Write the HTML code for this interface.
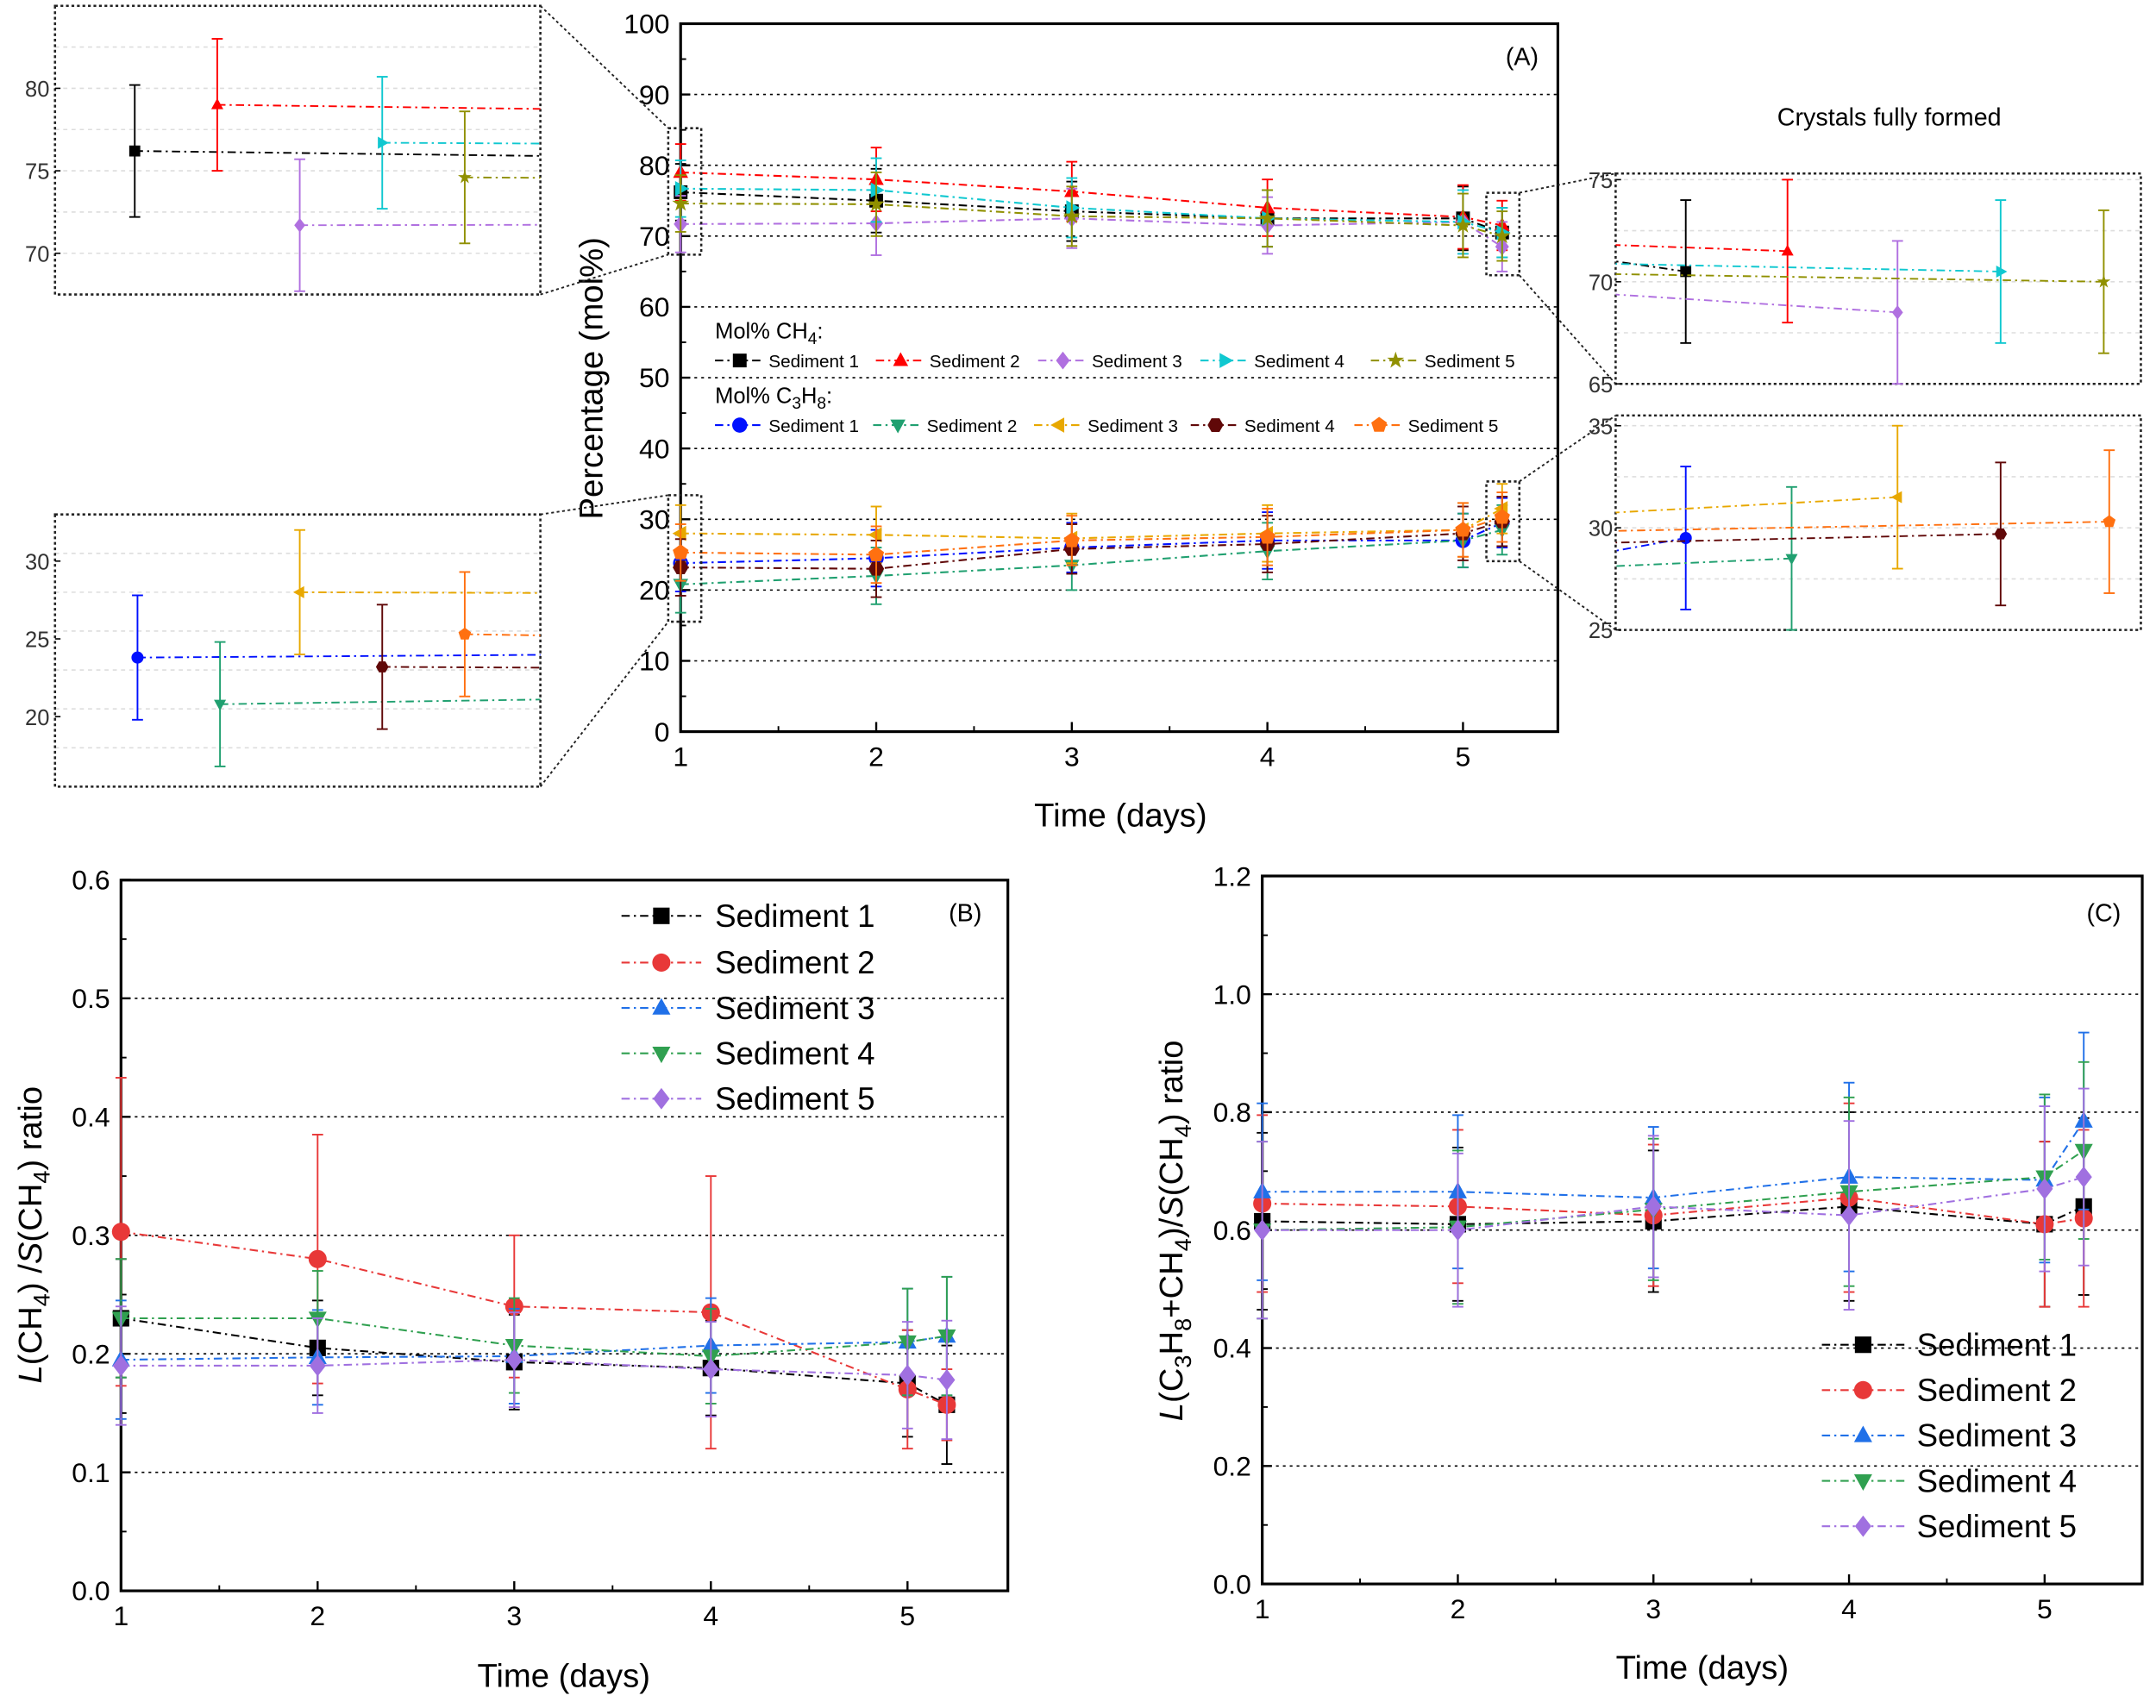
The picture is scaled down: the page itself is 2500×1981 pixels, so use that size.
<!DOCTYPE html>
<html><head><meta charset="utf-8"><style>
html,body{margin:0;padding:0;background:#fff;width:2500px;height:1981px;overflow:hidden}
svg{display:block;font-family:"Liberation Sans",Arial,sans-serif}
</style></head><body>
<svg id="fig" width="2500" height="1981" viewBox="0 0 1568 1242" xmlns="http://www.w3.org/2000/svg"></svg>
<script>
// ---------- DATA ----------
const daysA = [1,2,3,4,5,5.2];
const sedNames = ["Sediment 1","Sediment 2","Sediment 3","Sediment 4","Sediment 5"];
const ch4_s1 = [76.2,75.0,73.5,72.5,72.5,70.5];
const ch4_s2 = [79.0,78.0,76.3,74.0,72.7,71.5];
const ch4_s3 = [71.7,71.8,72.5,71.5,72.0,68.5];
const ch4_s4 = [76.7,76.5,74.0,72.5,72.0,70.5];
const ch4_s5 = [74.6,74.5,72.8,72.5,71.5,70.0];
const ch4_err = [4.0,4.5,4.2,4.0,4.5,3.5];
const c3h8_s1 = [23.8,24.5,26.0,27.0,27.0,29.5];
const c3h8_s2 = [20.8,22.0,23.5,25.5,27.0,28.5];
const c3h8_s3 = [28.0,27.8,27.3,28.0,28.5,31.5];
const c3h8_s4 = [23.2,23.0,25.8,26.5,28.0,29.7];
const c3h8_s5 = [25.3,25.0,27.0,27.5,28.5,30.3];
const c3h8_err = [4.0,4.0,3.5,4.0,3.8,3.5];
const ratioB_s1 = [0.230,0.205,0.193,0.188,0.175,0.157];
const ratioB_s2 = [0.303,0.280,0.240,0.235,0.170,0.157];
const ratioB_s3 = [0.195,0.197,0.198,0.207,0.210,0.215];
const ratioB_s4 = [0.230,0.230,0.207,0.198,0.210,0.215];
const ratioB_s5 = [0.190,0.190,0.195,0.187,0.182,0.178];
const errB_s2 = [0.13,0.105,0.06,0.115,0.05,0.03];
const errB = [0.05,0.04,0.04,0.04,0.045,0.05];
const ratioC_s1 = [0.615,0.610,0.615,0.640,0.610,0.640];
const ratioC_s2 = [0.645,0.640,0.625,0.655,0.610,0.620];
const ratioC_s3 = [0.665,0.665,0.655,0.690,0.685,0.785];
const ratioC_s4 = [0.600,0.605,0.635,0.665,0.690,0.735];
const ratioC_s5 = [0.600,0.600,0.640,0.625,0.670,0.690];
const errC = [0.15,0.13,0.12,0.16,0.14,0.15];
const ticksA = [0,10,20,30,40,50,60,70,80,90,100];
const ticksB = [0.0,0.1,0.2,0.3,0.4,0.5,0.6];
const ticksC = [0.0,0.2,0.4,0.6,0.8,1.0,1.2];
const ticksX = [1,2,3,4,5];

// ---------- HELPERS ----------
const NS="http://www.w3.org/2000/svg";
const svg=document.getElementById('fig');
function mk(tag,attrs,parent){const e=document.createElementNS(NS,tag);for(const k in attrs)e.setAttribute(k,attrs[k]);(parent||svg).appendChild(e);return e;}
function txt(s,x,y,size,anchor,parent,name){const t=mk('text',{x:x,y:y,'font-size':size,'text-anchor':anchor||'middle',fill:'#000'},parent);t.textContent=s;


return t;}
function marker(type,x,y,r,col,parent){let e;
 const p=(pts)=>mk('polygon',{points:pts.map(a=>a.join(',')).join(' '),fill:col},parent);
 if(type==='sq')e=mk('rect',{x:x-r,y:y-r,width:2*r,height:2*r,fill:col},parent);
 else if(type==='ci')e=mk('circle',{cx:x,cy:y,r:r*1.1,fill:col},parent);
 else if(type==='tu')e=p([[x,y-r*1.2],[x-r*1.1,y+r*0.8],[x+r*1.1,y+r*0.8]]);
 else if(type==='td')e=p([[x,y+r*1.2],[x-r*1.1,y-r*0.8],[x+r*1.1,y-r*0.8]]);
 else if(type==='tr')e=p([[x+r*1.2,y],[x-r*0.8,y-r*1.1],[x-r*0.8,y+r*1.1]]);
 else if(type==='tl')e=p([[x-r*1.2,y],[x+r*0.8,y-r*1.1],[x+r*0.8,y+r*1.1]]);
 else if(type==='di')e=p([[x,y-r*1.3],[x+r,y],[x,y+r*1.3],[x-r,y]]);
 else if(type==='st'){const a=[];for(let i=0;i<10;i++){const rr=i%2?r*0.5:r*1.3,an=-Math.PI/2+i*Math.PI/5;a.push([x+rr*Math.cos(an),y+rr*Math.sin(an)]);}e=p(a);}
 else if(type==='pe'){const a=[];for(let i=0;i<5;i++){const an=-Math.PI/2+i*2*Math.PI/5;a.push([x+r*1.2*Math.cos(an),y+r*1.2*Math.sin(an)]);}e=p(a);}
 else if(type==='hx'){const a=[];for(let i=0;i<6;i++){const an=i*Math.PI/3;a.push([x+r*1.15*Math.cos(an),y+r*1.15*Math.sin(an)]);}e=p(a);}
 
 
 return e;}
function errbar(x,y1,y2,col,parent){mk('line',{x1:x,y1:y1,x2:x,y2:y2,stroke:col,'stroke-width':1.2},parent);
 mk('line',{x1:x-4,y1:y1,x2:x+4,y2:y1,stroke:col,'stroke-width':1.2},parent);mk('line',{x1:x-4,y1:y2,x2:x+4,y2:y2,stroke:col,'stroke-width':1.2},parent);}
function series(g,xs,ys,errs,sx,sy,col,mt,r,name){const s=mk('g',{},g);
 
 
 const pts=xs.map((d,i)=>sx(d)+','+sy(ys[i])).join(' ');
 mk('polyline',{points:pts,fill:'none',stroke:col,'stroke-width':1.3,'stroke-dasharray':'6,3,1.5,3'},s);
 xs.forEach((d,i)=>{if(errs)errbar(sx(d),sy(ys[i]+errs[i]),sy(ys[i]-errs[i]),col,s);marker(mt,sx(d),sy(ys[i]),r,col,s);});}
function axesBox(g,x0,y0,x1,y1,ticks,sy,fmt,sx,gridVals,name){
 gridVals.forEach(v=>mk('line',{x1:x0,x2:x1,y1:sy(v),y2:sy(v),stroke:'#000','stroke-width':1,'stroke-dasharray':'2,3'},g));
 const b=mk('rect',{x:x0,y:y0,width:x1-x0,height:y1-y0,fill:'none',stroke:'#000','stroke-width':2},g);
 
 
 ticks.forEach((v,i)=>{const y=sy(v);mk('line',{x1:x0,x2:x0+7,y1:y,y2:y,stroke:'#000','stroke-width':1.5},g);
  if(i<ticks.length-1){const ym=sy((v+ticks[i+1])/2);mk('line',{x1:x0,x2:x0+4,y1:ym,y2:ym,stroke:'#000','stroke-width':1.2},g);}
  txt(fmt(v),x0-8,y+7,20,'end',g,'y-tick-label');});
 ticksX.forEach(d=>{const x=sx(d);mk('line',{x1:x,x2:x,y1:y1,y2:y1-7,stroke:'#000','stroke-width':1.5},g);
  if(d<5){const xm=sx(d+0.5);mk('line',{x1:xm,x2:xm,y1:y1,y2:y1-4,stroke:'#000','stroke-width':1.2},g);}
  txt(String(d),x,y1+25,20,'middle',g,'x-tick-label');});}
function grp(name){const g=mk('g',{});return g;}

const ch4 = [ch4_s1,ch4_s2,ch4_s3,ch4_s4,ch4_s5];
const c3h8 = [c3h8_s1,c3h8_s2,c3h8_s3,c3h8_s4,c3h8_s5];
const colCH4=['#000','#ff0000','#b070e0','#10c8d0','#909000'];
const mkCH4=['sq','tu','di','tr','st'];
const colC3=['#0010ff','#20a070','#e8a800','#600808','#ff7010'];
const mkC3=['ci','td','tl','hx','pe'];

// ---------- PANEL A ----------
const gA=grp('panel-a');
const axA={x0:495,x1:1133,y0:17,y1:532};
const sxA=d=>495+(d-1)*142.25, syA=v=>532-v*5.15;
axesBox(gA,axA.x0,axA.y0,axA.x1,axA.y1,ticksA,syA,v=>String(v),sxA,[10,20,30,40,50,60,70,80,90],'panel-a');
ch4.forEach((s,i)=>series(gA,daysA,s,ch4_err,sxA,syA,colCH4[i],mkCH4[i],5,'ch4-sediment-'+(i+1)));
c3h8.forEach((s,i)=>series(gA,daysA,s,c3h8_err,sxA,syA,colC3[i],mkC3[i],5,'c3h8-sediment-'+(i+1)));
txt('(A)',1107,47,18,'middle',gA,'panel-a-tag');
txt('Time (days)',815,601,24,'middle',gA,'x-axis-title');
const ytA=txt('Percentage (mol%)',0,0,24,'middle',gA,'y-axis-title');ytA.setAttribute('transform','translate(438,275) rotate(-90)');
// legend A
const lgA=grp('legend-a');
txt('Mol% CH',520,246,16,'start',lgA,'legend-title-ch4').innerHTML='Mol% CH<tspan dy="4" font-size="12">4</tspan><tspan dy="-4">:</tspan>';
txt('',520,293,16,'start',lgA,'legend-title-c3h8').innerHTML='Mol% C<tspan dy="4" font-size="12">3</tspan><tspan dy="-4">H</tspan><tspan dy="4" font-size="12">8</tspan><tspan dy="-4">:</tspan>';
[520,637,755,873,997].forEach((x,i)=>{const e=mk('g',{},lgA);
 mk('line',{x1:x,x2:x+36,y1:262,y2:262,stroke:colCH4[i],'stroke-width':1.3,'stroke-dasharray':'6,3,1.5,3'},e);marker(mkCH4[i],x+18,262,5,colCH4[i],e);txt(sedNames[i],x+39,267,13,'start',e,'legend-label');});
[520,635,752,866,985].forEach((x,i)=>{const e=mk('g',{},lgA);
 mk('line',{x1:x,x2:x+36,y1:309,y2:309,stroke:colC3[i],'stroke-width':1.3,'stroke-dasharray':'6,3,1.5,3'},e);marker(mkC3[i],x+18,309,5,colC3[i],e);txt(sedNames[i],x+39,314,13,'start',e,'legend-label');});
txt('Crystals fully formed',1374,91,18,'middle',gA,'annotation-crystals');

// ---------- INSETS ----------
function dotRect(x0,y0,x1,y1,g,name){const r=mk('rect',{x:x0,y:y0,width:x1-x0,height:y1-y0,fill:'none',stroke:'#222','stroke-width':1.6,'stroke-dasharray':'2,2'},g);}
function dline(a,b,c,d,g){mk('line',{x1:a,y1:b,x2:c,y2:d,stroke:'#222','stroke-width':1.2,'stroke-dasharray':'2,2'},g);}
function inset(name,box,vmin,vmax,ticks,sets,cols,mks,idx,nextIdx,xs,side,src){
 const g=grp(name);const [x0,y0,x1,y1]=box;const sy=v=>y1-(v-vmin)/(vmax-vmin)*(y1-y0);
 for(let v=Math.ceil(vmin*2)/2;v<vmax;v+=2.5){if(v>vmin)mk('line',{x1:x0,x2:x1,y1:sy(v),y2:sy(v),stroke:'#ddd','stroke-width':1,'stroke-dasharray':'3,3'},g);}
 dotRect(x0,y0,x1,y1,g,name+'-frame');
 ticks.forEach(v=>{mk('line',{x1:x0,x2:x0+4,y1:sy(v),y2:sy(v),stroke:'#000'},g);
  const t=txt(String(v),side==='left'?x0-4:x0+4,sy(v)+6,16,side==='left'?'end':'start',g,'inset-tick-label');t.setAttribute('fill','#333');
  if(side!=='left'){t.setAttribute('x',x0-2);t.setAttribute('text-anchor','end');}});
 sets.forEach((s,i)=>{const x=xs[i],v=s[idx],err=(src[idx]);
  const edge=side==='left'?x1:x0;const ve=v+(s[nextIdx]-v)*(side==='left'?0.25:0.25);
  mk('line',{x1:x,y1:sy(v),x2:edge,y2:sy(ve),stroke:cols[i],'stroke-width':1.2,'stroke-dasharray':'6,3,1.5,3'},g);
  errbar(x,sy(v+err),sy(v-err),cols[i],g);marker(mks[i],x,sy(v),4,cols[i],g);});
 return g;}
const gi1=inset('inset-ch4-day1',[40,4,393,214],67.5,85,[70,75,80],ch4,colCH4,mkCH4,0,1,[98,158,218,278,338],'left',ch4_err);
const gi2=inset('inset-c3h8-day1',[40,374,393,572],15.5,33,[20,25,30],c3h8,colC3,mkC3,0,1,[100,160,218,278,338],'left',c3h8_err);
const gi3=inset('inset-ch4-day5',[1175,126,1557,279],65,75.3,[65,70,75],ch4,colCH4,mkCH4,5,4,[1226,1300,1380,1455,1530],'right',ch4_err);
const gi4=inset('inset-c3h8-day5',[1175,302,1557,458],25,35.5,[25,30,35],c3h8,colC3,mkC3,5,4,[1226,1303,1380,1455,1534],'right',c3h8_err);
// zoom regions in main plot and connectors
dotRect(486,93,510,185,gA,'zoom-region-ch4-day1');
dotRect(486,360,510,452,gA,'zoom-region-c3h8-day1');
dotRect(1081,140,1105,200,gA,'zoom-region-ch4-day5');
dotRect(1081,350,1105,408,gA,'zoom-region-c3h8-day5');
dline(393,4,486,93,gA);dline(393,214,486,185,gA);
dline(393,374,486,360,gA);dline(393,572,486,452,gA);
dline(1105,140,1175,126,gA);dline(1105,200,1175,279,gA);
dline(1105,350,1175,302,gA);dline(1105,408,1175,458,gA);

// ---------- PANEL B ----------
const colBC=['#000','#e83838','#2070e8','#30a050','#a070e0'];
const mkBC=['sq','ci','tu','td','di'];
const gB=grp('panel-b');
const sxB=d=>88+(d-1)*143, syB=v=>1157-v*862;
axesBox(gB,88,640,733,1157,ticksB,syB,v=>v.toFixed(1),sxB,[0.1,0.2,0.3,0.4,0.5],'panel-b');
const setsB=[ratioB_s1,ratioB_s2,ratioB_s3,ratioB_s4,ratioB_s5];
setsB.forEach((s,i)=>series(gB,daysA,s,i===1?errB_s2:errB,sxB,syB,colBC[i],mkBC[i],6,'ratio-b-sediment-'+(i+1)));
txt('(B)',702,670,18,'middle',gB,'panel-b-tag');
txt('Time (days)',410,1227,24,'middle',gB,'x-axis-title');
const ytB=txt('',0,0,24,'middle',gB,'y-axis-title');ytB.innerHTML='<tspan font-style="italic">L</tspan>(CH<tspan dy="6" font-size="17">4</tspan><tspan dy="-6">) /</tspan><tspan font-style="italic">S</tspan>(CH<tspan dy="6" font-size="17">4</tspan><tspan dy="-6">) ratio</tspan>';
ytB.setAttribute('transform','translate(30,898) rotate(-90)');
[666,700,733,766,799].forEach((y,i)=>{const e=mk('g',{},gB);
 mk('line',{x1:452,x2:510,y1:y,y2:y,stroke:colBC[i],'stroke-width':1.3,'stroke-dasharray':'6,3,1.5,3'},e);marker(mkBC[i],481,y,6,colBC[i],e);txt(sedNames[i],520,y+8,23,'start',e,'legend-label');});

// ---------- PANEL C ----------
const gC=grp('panel-c');
const sxC=d=>918+(d-1)*142.25, syC=v=>1152-v*429;
axesBox(gC,918,637,1558,1152,ticksC,syC,v=>v.toFixed(1),sxC,[0.2,0.4,0.6,0.8,1.0],'panel-c');
const setsC=[ratioC_s1,ratioC_s2,ratioC_s3,ratioC_s4,ratioC_s5];
setsC.forEach((s,i)=>series(gC,daysA,s,errC,sxC,syC,colBC[i],mkBC[i],6,'ratio-c-sediment-'+(i+1)));
txt('(C)',1530,670,18,'middle',gC,'panel-c-tag');
txt('Time (days)',1238,1221,24,'middle',gC,'x-axis-title');
const ytC=txt('',0,0,24,'middle',gC,'y-axis-title');ytC.innerHTML='<tspan font-style="italic">L</tspan>(C<tspan dy="6" font-size="17">3</tspan><tspan dy="-6">H</tspan><tspan dy="6" font-size="17">8</tspan><tspan dy="-6">+CH</tspan><tspan dy="6" font-size="17">4</tspan><tspan dy="-6">)/</tspan><tspan font-style="italic">S</tspan>(CH<tspan dy="6" font-size="17">4</tspan><tspan dy="-6">) ratio</tspan>';
ytC.setAttribute('transform','translate(860,895) rotate(-90)');
[978,1011,1044,1077,1110].forEach((y,i)=>{const e=mk('g',{},gC);
 mk('line',{x1:1325,x2:1385,y1:y,y2:y,stroke:colBC[i],'stroke-width':1.3,'stroke-dasharray':'6,3,1.5,3'},e);marker(mkBC[i],1355,y,6,colBC[i],e);txt(sedNames[i],1394,y+8,23,'start',e,'legend-label');});
</script>
</body></html>
